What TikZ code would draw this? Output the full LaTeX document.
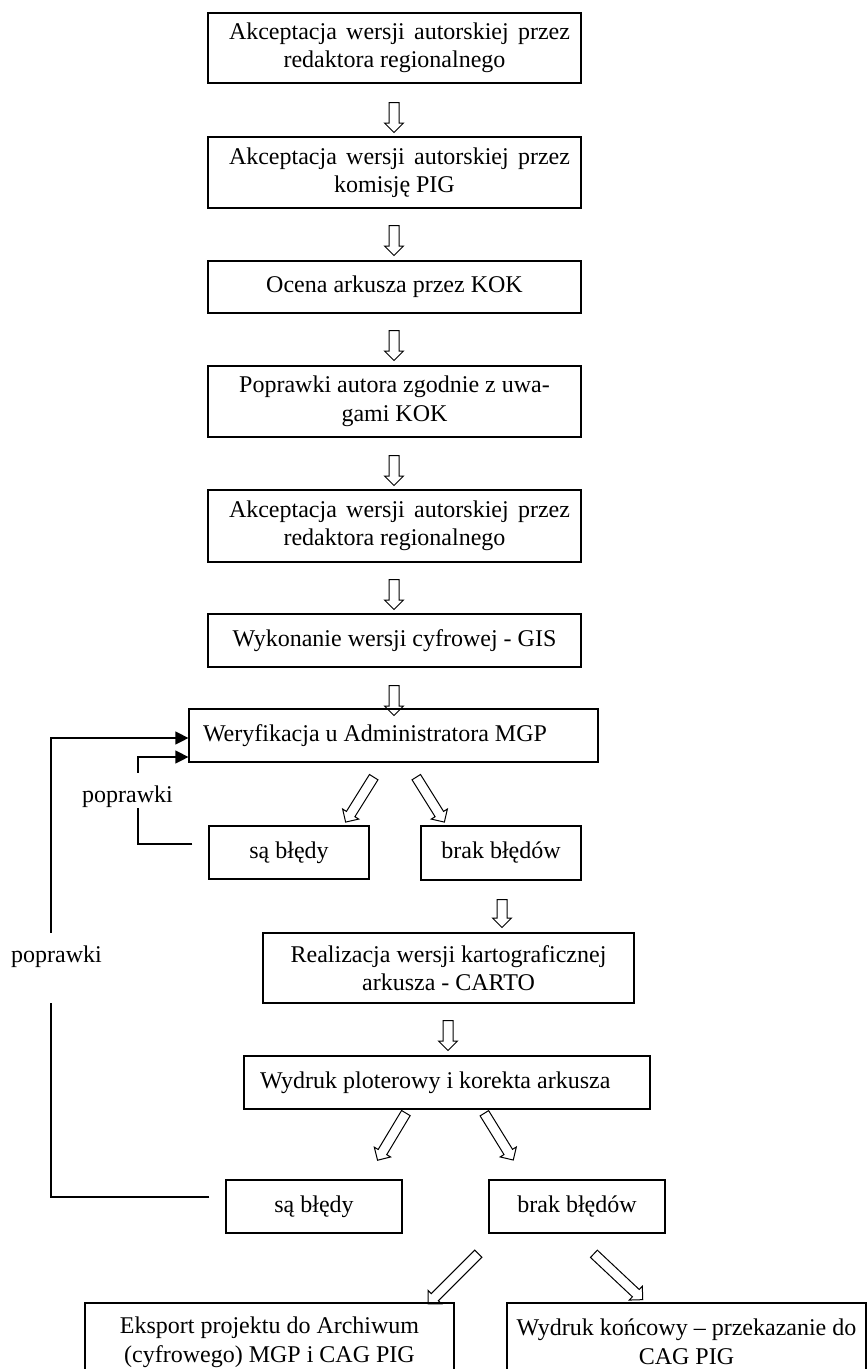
\documentclass[tikz,border=0pt]{standalone}
\usepackage{fontspec}
\setmainfont{Liberation Serif}
\usetikzlibrary{shapes.arrows,arrows.meta,calc}
\newcommand\akcline{\hspace*{10pt}\makebox[341pt][s]{Akceptacja wersji autorskiej przez}}
\begin{document}
\begin{tikzpicture}[x=1pt,y=-1pt,
  box/.style={draw,line width=1.2pt,inner sep=0pt,align=center,
    font=\fontsize{24}{28.5}\selectfont},
  blockarrow/.style={draw,line width=1pt,single arrow,inner xsep=0pt,inner ysep=4.5pt,
    minimum width=0pt,single arrow head extend=4.5pt,outer sep=0pt},
  fb/.style={line width=1.2pt,-{Triangle[length=13pt,width=13pt]}},
  lbl/.style={fill=white,inner ysep=0pt,inner xsep=2pt,font=\fontsize{24}{28.5}\selectfont}]
\useasboundingbox (0,0) rectangle (868,1369);

% main column
\node[box,minimum width=373pt,minimum height=70pt] (b1) at (394.5,48)
  {\akcline\\redaktora regionalnego};
\node[box,minimum width=373pt,minimum height=71pt] (b2) at (394.5,172.5)
  {\akcline\\komisję PIG};
\node[box,minimum width=373pt,minimum height=52pt] (b3) at (394.5,287)
  {Ocena arkusza przez KOK};
\node[box,minimum width=373pt,minimum height=71pt] (b4) at (394.5,401.5)
  {Poprawki autora zgodnie z uwa-\\gami KOK};
\node[box,minimum width=373pt,minimum height=72pt] (b5) at (394.5,526)
  {\akcline\\redaktora regionalnego};
\node[box,minimum width=373pt,minimum height=53pt] (b6) at (394.5,640.5)
  {Wykonanie wersji cyfrowej - GIS};
\node[box,inner xsep=14pt,minimum height=53pt] (b7) at (393.5,735.5)
  {\makebox[381pt][l]{Weryfikacja u Administratora MGP}};
\node[box,minimum width=160pt,minimum height=53pt] (s1) at (289,852.5) {są błędy};
\node[box,minimum width=160pt,minimum height=54pt] (k1) at (501,853) {brak błędów};
\node[box,minimum width=371pt,minimum height=70pt] (r) at (448.5,968)
  {Realizacja wersji kartograficznej\\arkusza - CARTO};
\node[box,inner xsep=16pt,minimum height=53pt] (w) at (447,1082.5)
  {\makebox[374pt][l]{Wydruk ploterowy i korekta arkusza}};
\node[box,minimum width=176pt,minimum height=53pt] (s2) at (314,1206.5) {są błędy};
\node[box,minimum width=176pt,minimum height=53pt] (k2) at (577,1206.5) {brak błędów};
\node[box,minimum width=369pt,minimum height=78pt] (e) at (269.5,1342)
  {Eksport projektu do Archiwum\\(cyfrowego) MGP i CAG PIG};
\node[box,minimum width=359pt,minimum height=78pt] (f) at (686.5,1342)
  {Wydruk końcowy – przekazanie do\\CAG PIG};

% hollow arrows
\node[blockarrow,minimum height=30pt,rotate=-90] (a1) at (394,115) {};
\node[blockarrow,minimum height=30pt,rotate=-90] (a2) at (394,238) {};
\node[blockarrow,minimum height=30pt,rotate=-90] (a3) at (394,343) {};
\node[blockarrow,minimum height=30pt,rotate=-90] (a4) at (394,468) {};
\node[blockarrow,minimum height=30pt,rotate=-90] (a5) at (394,592) {};
\node[blockarrow,minimum height=30pt,rotate=-90] (a6) at (394,698) {};
\node[blockarrow,minimum height=28pt,rotate=-90] (a7) at (502,911) {};
\node[blockarrow,minimum height=30pt,rotate=-90] (a8) at (448,1033) {};
\node[blockarrow,minimum height=53pt,rotate=238] (d1l) at (361,797.5) {};
\node[blockarrow,minimum height=53pt,rotate=302] (d1r) at (429,797.5) {};
\node[blockarrow,minimum height=55pt,rotate=239] (d2l) at (393,1134.5) {};
\node[blockarrow,minimum height=55pt,rotate=301.7] (d2r) at (497.5,1134.5) {};
\node[blockarrow,minimum height=71pt,rotate=225] (d3l) at (455,1277) {};
\node[blockarrow,minimum height=67pt,rotate=316.8] (d3r) at (616.5,1275) {};

% feedback loops
\draw[fb] ($(s1.west)+(-16,-8.5)$) -| (138,757) -- (b7.west |- 0,757);
\draw[fb] ($(s2.west)+(-16,-9.5)$) -| (51,738) -- (b7.west |- 0,738);
\node[lbl,anchor=north,text height=29.5pt,text depth=5.5pt] (p1) at (127.5,773) {poprawki};
\node[lbl,anchor=north,text height=29.5pt,text depth=40.5pt] (p2) at (56.5,933) {poprawki};
\end{tikzpicture}
\end{document}
